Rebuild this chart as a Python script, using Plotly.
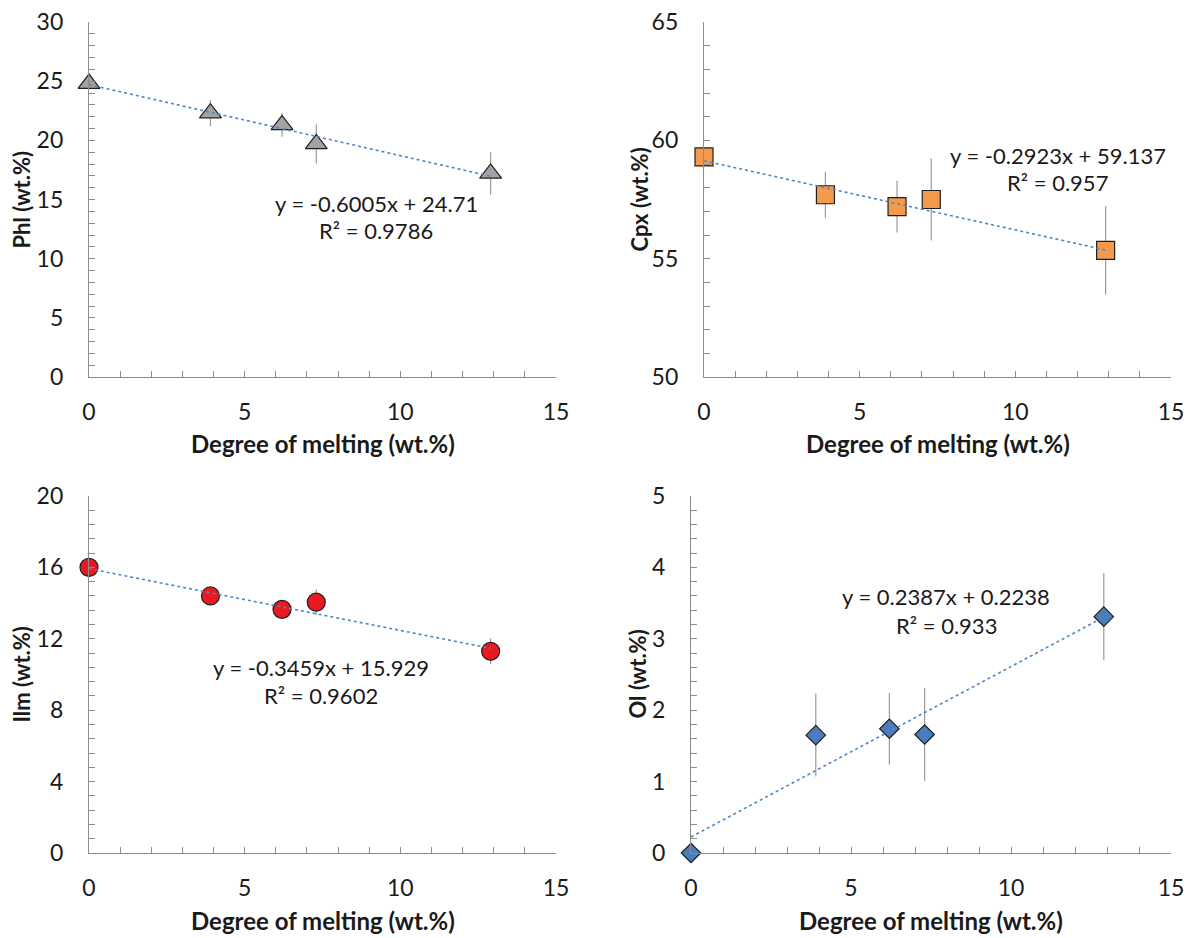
import plotly.graph_objects as go

# ---------------- data ----------------
melting = [0, 3.9, 6.2, 7.3, 12.9]

phl = [24.8, 22.3, 21.3, 19.7, 17.2]
phl_err = [0, 1.1, 1.0, 1.65, 1.8]

cpx = [59.3, 57.7, 57.2, 57.5, 55.35]
cpx_err = [0, 0.97, 1.09, 1.73, 1.86]

ilm = [16.0, 14.4, 13.65, 14.05, 11.3]
ilm_err = [0, 0.3, 0.3, 0.72, 0.72]

ol = [0, 1.65, 1.74, 1.66, 3.31]
ol_err = [0, 0.58, 0.5, 0.65, 0.61]

slopes = [-0.6005, -0.2923, -0.3459, 0.2387]
intercepts = [24.71, 59.137, 15.929, 0.2238]
r2_labels = ["0.9786", "0.957", "0.9602", "0.933"]
eq_labels = ["y = -0.6005x + 24.71", "y = -0.2923x + 59.137",
             "y = -0.3459x + 15.929", "y = 0.2387x + 0.2238"]
y_titles = ["Phl (wt.%)", "Cpx (wt.%)", "Ilm (wt.%)", "Ol (wt.%)"]
x_title = "Degree of melting (wt.%)"

# ---------------- layout geometry ----------------
W, H = 1193, 938
FONT = "Lato"
AXC = "#8c8c8c"
TXT = "#1a1a1a"

def px_x(p):
    return p / W

def px_y(p):
    return 1 - p / H

panels = [
    dict(x0=89, x1=556, y0=22, y1=377, yr=[0, 30], dt=5, mdt=1,
         sym="triangle-up", size=19, color="#A2A2A2",
         eq=(9.22, 14.7), r2=(9.22, 12.4), ytx=21),
    dict(x0=704, x1=1171, y0=22, y1=377, yr=[50, 65], dt=5, mdt=1,
         sym="square", size=18, color="#F39A4C",
         eq=(11.37, 59.38), r2=(11.37, 58.2), ytx=639),
    dict(x0=89, x1=556, y0=496, y1=853, yr=[0, 20], dt=4, mdt=0.8,
         sym="circle", size=18, color="#E8191F",
         eq=(7.45, 10.42), r2=(7.45, 8.8), ytx=21),
    dict(x0=691, x1=1171, y0=496, y1=853, yr=[0, 5], dt=1, mdt=0.2,
         sym="diamond", size=15, color="#4A7DBA",
         eq=(7.97, 3.59), r2=(7.97, 3.18), ytx=637),
]
ys = [phl, cpx, ilm, ol]
errs = [phl_err, cpx_err, ilm_err, ol_err]

fig = go.Figure()
layout = dict(width=W, height=H,
              margin=dict(l=0, r=0, t=0, b=0, autoexpand=False),
              paper_bgcolor="white", plot_bgcolor="white",
              showlegend=False, font=dict(family=FONT, color=TXT))
annotations = []

for i, p in enumerate(panels):
    n = "" if i == 0 else str(i + 1)
    xa, ya = "x" + n, "y" + n
    fig.add_trace(go.Scatter(
        x=melting, y=ys[i], mode="markers", xaxis=xa, yaxis=ya,
        cliponaxis=False,
        marker=dict(symbol=p["sym"], size=p["size"], color=p["color"],
                    line=dict(color="#1f1f1f", width=1.2)),
        error_y=dict(type="data", array=errs[i], color="#9a9a9a",
                     thickness=1.2, width=0),
    ))
    xs = [min(melting), max(melting)]
    fig.add_trace(go.Scatter(
        x=xs, y=[slopes[i] * v + intercepts[i] for v in xs],
        mode="lines", xaxis=xa, yaxis=ya, cliponaxis=False,
        line=dict(color="#4F86C6", width=1.6, dash="dot"),
        hoverinfo="skip",
    ))
    axis_common = dict(showgrid=False, zeroline=False, showline=True,
                       linecolor=AXC, linewidth=1.3, ticks="inside",
                       ticklen=6, tickcolor=AXC, tickwidth=1.2,
                       tickfont=dict(family=FONT, size=23, color=TXT))
    layout["xaxis" + n] = dict(
        axis_common, domain=[px_x(p["x0"]), px_x(p["x1"])],
        range=[0, 15], tick0=0, dtick=5, anchor=ya,
        ticklabelstandoff=14,
        minor=dict(dtick=1, ticks="inside", ticklen=6, tickcolor=AXC,
                   tickwidth=1.2, showgrid=False),
    )
    layout["yaxis" + n] = dict(
        axis_common, domain=[px_y(p["y1"]), px_y(p["y0"])],
        range=p["yr"], tick0=p["yr"][0], dtick=p["dt"], anchor=xa,
        ticklabelstandoff=20,
        minor=dict(dtick=p["mdt"], tick0=p["yr"][0], ticks="inside",
                   ticklen=6, tickcolor=AXC, tickwidth=1.2, showgrid=False),
    )
    annotations.append(dict(x=p["eq"][0], y=p["eq"][1], xref=xa, yref=ya,
                            text=eq_labels[i], showarrow=False,
                            font=dict(family=FONT, size=22, color=TXT)))
    annotations.append(dict(x=p["r2"][0], y=p["r2"][1], xref=xa, yref=ya,
                            text="R² = " + r2_labels[i], showarrow=False,
                            font=dict(family=FONT, size=22, color=TXT)))
    xt_y = 444 if i < 2 else 920
    annotations.append(dict(x=px_x((p["x0"] + p["x1"]) / 2), y=px_y(xt_y),
                            xref="paper", yref="paper",
                            text="<b>" + x_title + "</b>",
                            showarrow=False, xanchor="center", yanchor="middle",
                            font=dict(family=FONT, size=24, color=TXT)))
    annotations.append(dict(x=px_x(p["ytx"]), y=px_y((p["y0"] + p["y1"]) / 2),
                            xref="paper", yref="paper",
                            text="<b>" + y_titles[i] + "</b>",
                            showarrow=False, textangle=-90, xanchor="center",
                            yanchor="middle",
                            font=dict(family=FONT, size=22, color=TXT)))

layout["annotations"] = annotations
fig.update_layout(**layout)
fig.write_html(
    "out.html",
    config={"displayModeBar": False},
    post_script="document.body.style.margin='0';"
                "document.body.style.overflow='hidden';",
)
